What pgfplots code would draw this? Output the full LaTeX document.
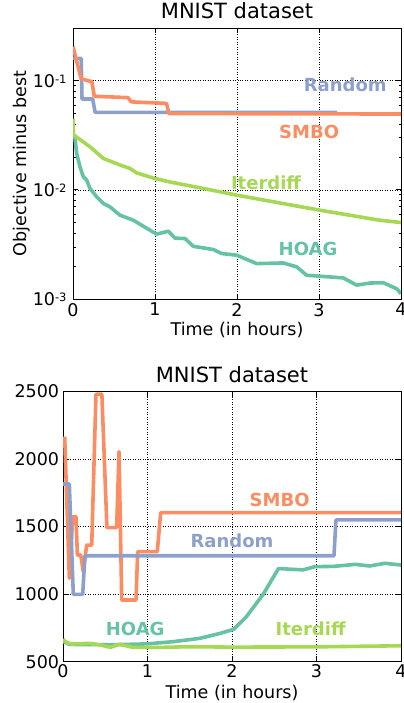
\documentclass[border=0pt]{standalone}
\usepackage{fontspec}
\setmainfont{DejaVu Sans}
\usepackage{pgfplots}
\pgfplotsset{compat=1.18}
\definecolor{cHOAG}{RGB}{102,194,165}
\definecolor{cSMBO}{RGB}{252,141,98}
\definecolor{cRand}{RGB}{141,160,203}
\definecolor{cIter}{RGB}{166,216,84}
\newcommand\sups[1]{\raisebox{3.5bp}{\fontsize{11.5bp}{13bp}\selectfont #1}}
\newcommand\tfont{\fontsize{17.5bp}{20bp}\selectfont}
\newcommand\lfont{\fontsize{18bp}{20bp}\selectfont\bfseries}
\pgfplotsset{
  mystyle/.style={
    scale only axis,
    xmin=0, xmax=4,
    xtick={0,1,2,3,4}, xticklabels={0,1,2,3,4},
    grid=major,
    major grid style={black, line width=0.5bp, dotted},
    axis line style={black, line width=0.9bp},
    tick style={black, line width=0.7bp},
    major tick length=5bp, minor tick length=2.5bp,
    tick align=inside,
    ticklabel style={font=\tfont},
    label style={font=\tfont},
    xticklabel style={anchor=north, inner sep=0pt},
    yticklabel style={anchor=base east, inner sep=0pt, yshift=-6.3bp},
    title style={font=\fontsize{21bp}{24bp}\selectfont, at={(axis description cs:0.5,1)}, anchor=base, yshift=3.5bp, inner sep=0pt},
    xlabel style={at={(axis description cs:0.5,0)}, anchor=base, yshift=-37bp, inner sep=0pt},
    every axis plot/.append style={line width=3.6bp, line join=round, no marks},
    title={MNIST dataset},
    xlabel={Time (in hours)},
  }
}
\begin{document}
\begin{tikzpicture}
\useasboundingbox (0,0) rectangle (404bp,703bp);
% ---------------- top panel ----------------
\begin{axis}[mystyle,
  at={(73bp,404bp)}, anchor=south west,
  width=328bp, height=271bp,
  ymode=log, ymin=1e-3, ymax=0.304,
  ytick={0.001,0.01,0.1},
  yticklabels={10\sups{-3},10\sups{-2},10\sups{-1}},
  xticklabel style={yshift=-4bp},
  yticklabel style={xshift=-6.3bp},
  ylabel={Objective minus best},
  ylabel style={at={(axis description cs:-0.155,0.5)}, anchor=center, inner sep=0pt},
]
\addplot[cHOAG] coordinates {
(0,0.0331) (0.024,0.0296) (0.045,0.0216) (0.085,0.01626) (0.126,0.01316)
(0.167,0.01227) (0.207,0.0103) (0.289,0.00863) (0.37,0.0075) (0.451,0.00698)
(0.573,0.00586) (0.735,0.00527) (0.939,0.00427) (1.02,0.00393) (1.162,0.00418)
(1.244,0.00361) (1.366,0.00358) (1.467,0.00304) (1.711,0.00284) (1.813,0.00261)
(1.996,0.00252) (2.24,0.00211) (2.565,0.00214) (2.728,0.00197) (2.85,0.00165)
(3.296,0.00156) (3.46,0.00134) (3.62,0.0014) (3.784,0.00141) (3.948,0.00124)
(4.0,0.00112)};
\addplot[cIter] coordinates {
(0,0.045) (0.005,0.032) (0.03,0.031) (0.207,0.0248) (0.37,0.0194)
(0.573,0.0169) (0.695,0.0157) (0.777,0.0143) (1.0,0.0127) (1.183,0.0118)
(1.589,0.0103) (1.996,0.00894) (3.01,0.00651) (3.74,0.00527) (4,0.00502)};
\addplot[cRand] coordinates {
(0,0.160) (0.1,0.160) (0.11,0.068) (0.24,0.068) (0.27,0.0513) (3.22,0.0513)};
\addplot[cSMBO] coordinates {
(0,0.205) (0.1,0.104) (0.23,0.098) (0.26,0.072) (0.67,0.070) (0.71,0.064)
(1.14,0.062) (1.17,0.0500) (4,0.0495)};
\node[text=cRand, font=\lfont, inner sep=0pt] at (axis cs:3.32,0.0914) {Random};
\node[text=cSMBO, font=\lfont, inner sep=0pt] at (axis cs:2.88,0.034) {SMBO};
\node[text=cIter, font=\lfont, inner sep=0pt] at (axis cs:2.354,0.0115) {Iterdiff};
\node[text=cHOAG, font=\lfont, inner sep=0pt] at (axis cs:2.866,0.00286) {HOAG};
\end{axis}
% ---------------- bottom panel ----------------
\begin{axis}[mystyle,
  at={(63bp,41.3bp)}, anchor=south west,
  width=338bp, height=270bp,
  ymin=500, ymax=2500,
  ytick={500,1000,1500,2000,2500},
  yticklabels={500,1000,1500,2000,2500},
  xticklabel style={yshift=-2.5bp},
  yticklabel style={xshift=-3.7bp},
]
\addplot[cSMBO] coordinates {
(0.02,2167) (0.075,1118) (0.115,1574) (0.154,1574) (0.17,1290) (0.21,1290)
(0.24,1167) (0.28,1364) (0.34,1364) (0.39,2481) (0.46,2481) (0.52,1493)
(0.635,1493) (0.663,2056) (0.695,957) (0.864,957) (0.884,1315) (1.116,1315)
(1.156,1604) (4,1604)};
\addplot[cRand] coordinates {
(0,1816) (0.075,1816) (0.122,999) (0.233,999) (0.26,1285) (3.207,1285)
(3.23,1550) (4,1550)};
\addplot[cHOAG] coordinates {
(0,650) (0.08,628) (0.3,627) (0.55,625) (0.99,632) (1.3,648) (1.62,673)
(1.86,710) (2.02,740) (2.17,833) (2.37,1000) (2.55,1190) (2.84,1180)
(2.98,1204) (3.2,1206) (3.46,1221) (3.63,1209) (3.81,1229) (4,1216)};
\addplot[cIter] coordinates {
(0,665) (0.05,640) (0.12,631) (0.32,636) (0.44,624) (0.56,606) (0.67,629)
(0.83,606) (1.15,606) (1.5,611) (2,608) (3,610) (4,618)};
\node[text=cSMBO, font=\lfont, inner sep=0pt] at (axis cs:2.564,1698) {SMBO};
\node[text=cRand, font=\lfont, inner sep=0pt] at (axis cs:2.0,1394) {Random};
\node[text=cHOAG, font=\lfont, inner sep=0pt] at (axis cs:0.854,742) {HOAG};
\node[text=cIter, font=\lfont, inner sep=0pt] at (axis cs:2.93,747) {Iterdiff};
\end{axis}
\end{tikzpicture}
\end{document}
